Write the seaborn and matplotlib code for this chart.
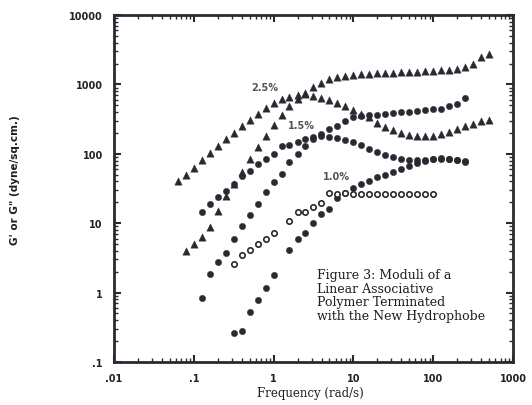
import matplotlib
matplotlib.use("Agg")
import matplotlib.pyplot as plt
import numpy as np
import pandas as pd
import seaborn as sns
from matplotlib.ticker import FixedLocator, FixedFormatter, NullFormatter

# ---- data: dynamic moduli vs. frequency (rad/s) ----
freq_full = [0.063, 0.079, 0.1, 0.126, 0.158, 0.2, 0.251, 0.316, 0.398, 0.5,
             0.631, 0.794, 1.0, 1.26, 1.58, 2.0, 2.51, 3.16, 3.98, 5.0,
             6.31, 7.94, 10, 12.6, 15.8, 20, 25.1, 31.6, 39.8, 50,
             63.1, 79.4, 100, 126, 158, 200, 251, 316, 398, 501]

# 2.5 % polymer
loss_25 = [41, 50, 62, 81, 103, 130, 163, 200, 252, 307,
           374, 457, 540, 617, 658, 704, 728, 681, 637, 596,
           540, 489, 428, 374, 339, 278, 243, 220, 200, 187,
           180, 180, 180, 193, 206, 228, 252, 269, 297, 307]
freq_storage_25 = freq_full[1:]
storage_25 = [4.0, 5.0, 6.3, 8.8, 15, 25, 37, 55, 84, 125,
              180, 260, 362, 489, 617, 752, 918, 1050, 1200, 1280,
              1320, 1370, 1410, 1410, 1460, 1460, 1460, 1510, 1510, 1510,
              1560, 1560, 1610, 1610, 1670, 1780, 1970, 2450, 2740]

# 1.5 % polymer
freq_15 = freq_full[3:37]
storage_15 = [0.84, 1.85, 2.8, 3.7, 5.9, 9.1, 13.1, 19, 28, 39,
              51, 76, 99, 130, 163, 193, 228, 252, 297, 339,
              355, 360, 365, 374, 387, 400, 400, 414, 428, 442,
              442, 489, 522, 637]
loss_15 = [14.5, 19, 24, 29, 37, 48, 56, 71, 84, 99,
           130, 134, 148, 163, 175, 180, 175, 169, 158, 148,
           134, 117, 106, 96, 90, 84, 81, 81, 81, 84,
           84, 84, 81, 79]

# 1.0 % polymer
freq_storage_10 = [0.316, 0.398, 0.5, 0.631, 0.794, 1.0,
                   1.58, 2.0, 2.51, 3.16, 3.98, 5.0, 6.31, 7.94, 10,
                   12.6, 15.8, 20, 25.1, 31.6, 39.8, 50, 63.1, 79.4, 100,
                   126, 158, 200, 251]
storage_10 = [0.26, 0.28, 0.52, 0.78, 1.16, 1.8,
              4.1, 5.9, 7.2, 10.1, 13.6, 16, 23, 27, 32,
              37, 41, 46, 50, 55, 60, 67, 74, 79, 84,
              87, 84, 81, 76]
freq_loss_10 = [0.316, 0.398, 0.5, 0.631, 0.794, 1.0,
                1.58, 2.0, 2.51, 3.16, 3.98, 5.0, 6.31,
                7.94, 10, 12.6, 15.8, 20, 25.1, 31.6, 39.8, 50, 63.1, 79.4, 100]
loss_10 = [2.6, 3.5, 4.1, 5.0, 5.9, 7.2,
           10.8, 14.5, 14.5, 17, 19.5, 27, 26,
           27, 26, 26, 26, 26, 26, 26, 26, 26, 26, 26, 26]

x_ticks = [0.01, 0.1, 1, 10, 100, 1000]
x_tick_labels = [".01", ".1", "1", "10", "100", "1000"]
y_ticks = [0.1, 1, 10, 100, 1000, 10000]
y_tick_labels = [".1", "1", "10", "100", "1000", "10000"]

conc_labels = ["2.5%", "1.5%", "1.0%"]
conc_label_pos = [(0.77, 918), (2.24, 260), (6.2, 48)]

caption = ("Figure 3: Moduli of a\nLinear Associative\n"
           "Polymer Terminated\nwith the New Hydrophobe")

# ---- figure ----
sns.set_style("ticks")
plt.rcParams["font.family"] = ["DejaVu Sans"]

INK = "#272b31"

fig = plt.figure(figsize=(5.32, 4.06), dpi=100)
ax = fig.add_axes([114 / 532, 1 - 363 / 406, 399 / 532, 347 / 406])

def draw(freq, mod, marker, size, filled=True):
    df = pd.DataFrame({"freq": freq, "mod": mod})
    if filled:
        sns.scatterplot(data=df, x="freq", y="mod", ax=ax, marker=marker,
                        s=size, color=INK, edgecolor=INK, linewidth=0.3,
                        legend=False, zorder=3)
    else:
        sns.scatterplot(data=df, x="freq", y="mod", ax=ax, marker=marker,
                        s=size, facecolor="white", edgecolor=INK,
                        linewidth=1.2, legend=False, zorder=3)

draw(freq_full, loss_25, "^", 28)
draw(freq_storage_25, storage_25, "^", 28)
draw(freq_15, storage_15, "o", 21)
draw(freq_15, loss_15, "o", 21)
draw(freq_storage_10, storage_10, "o", 21)
draw(freq_loss_10, loss_10, "o", 15, filled=False)

ax.set_xscale("log")
ax.set_yscale("log")
ax.set_xlim(0.01, 1000)
ax.set_ylim(0.1, 10000)

ax.xaxis.set_major_locator(FixedLocator(x_ticks))
ax.xaxis.set_major_formatter(FixedFormatter(x_tick_labels))
ax.yaxis.set_major_locator(FixedLocator(y_ticks))
ax.yaxis.set_major_formatter(FixedFormatter(y_tick_labels))
ax.xaxis.set_minor_formatter(NullFormatter())
ax.yaxis.set_minor_formatter(NullFormatter())

for side in ["left", "right", "top", "bottom"]:
    ax.spines[side].set_visible(True)
    ax.spines[side].set_linewidth(2.0)
    ax.spines[side].set_color(INK)

ax.tick_params(which="both", direction="in", top=True, right=True,
               color=INK)
ax.tick_params(which="major", length=5, width=1.5)
ax.tick_params(which="minor", length=3, width=1.0)
ax.tick_params(axis="x", which="major", pad=8, labelsize=7)
ax.tick_params(axis="y", which="major", pad=8, labelsize=7)
for lab in ax.get_xticklabels() + ax.get_yticklabels():
    lab.set_fontweight("bold")
    lab.set_color("#222222")

ax.set_xlabel("Frequency (rad/s)", family="DejaVu Serif", fontsize=8.5,
              color="#1e1e1e")
ax.set_ylabel("G' or G\" (dyne/sq.cm.)", fontsize=7.5, fontweight="bold",
              color="#1e1e1e")
ax.xaxis.set_label_coords(0.491, -0.07)
ax.yaxis.set_label_coords(-0.2356, 0.527)

for text, (fx, gy) in zip(conc_labels, conc_label_pos):
    ax.text(fx, gy, text, ha="center", va="center", fontsize=7,
            fontweight="bold", color="#555555")

ax.text(0.509, 0.27, caption, transform=ax.transAxes, ha="left", va="top",
        family="DejaVu Serif", fontsize=9.0, linespacing=1.05,
        color="#1e1e1e")

fig.savefig("out.png", dpi=100)
